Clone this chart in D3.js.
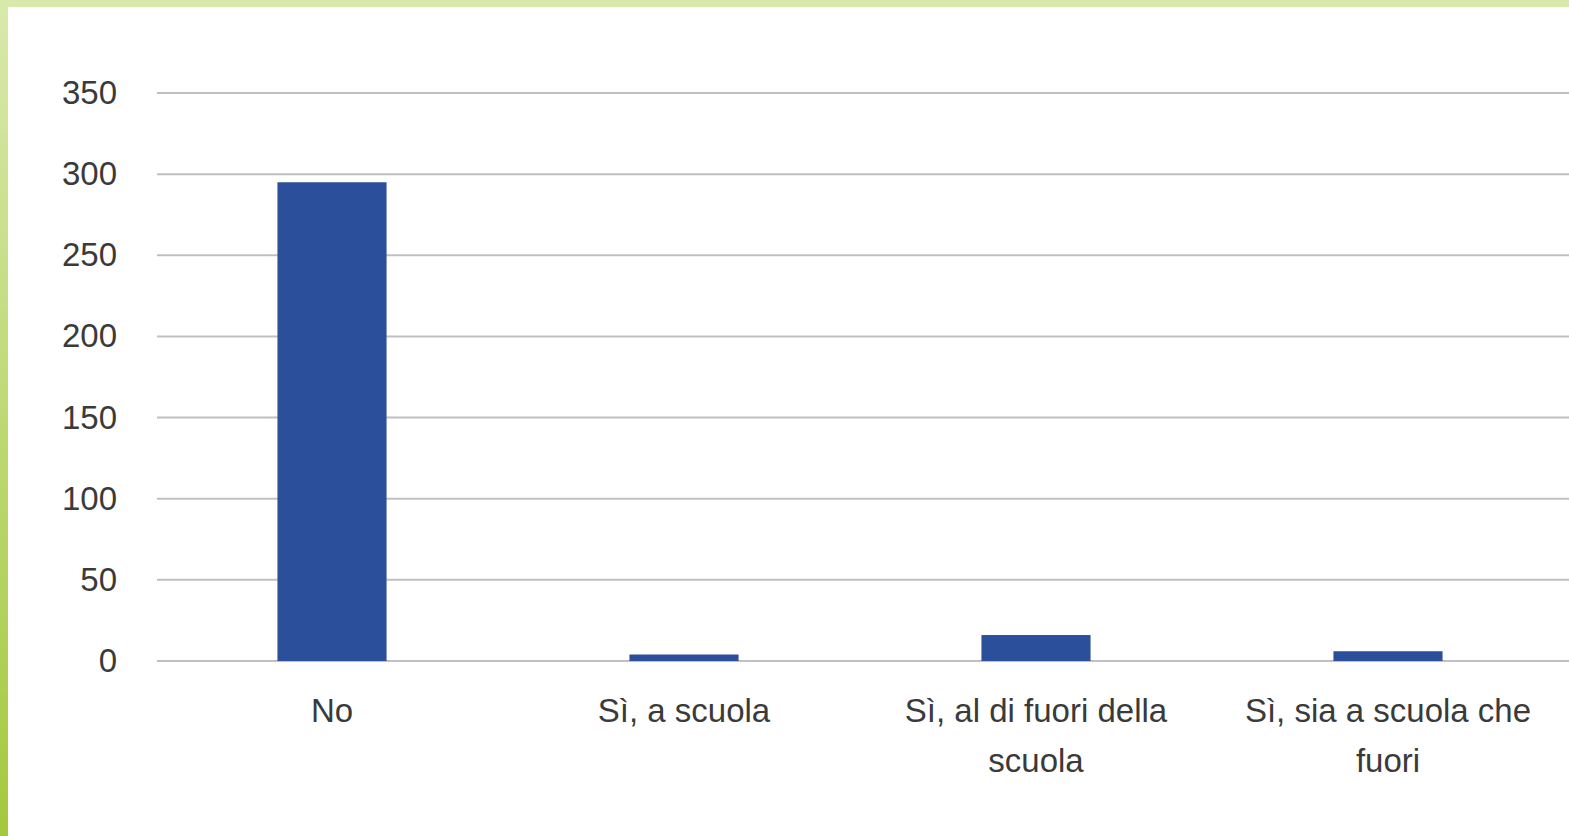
<!DOCTYPE html>
<html><head><meta charset="utf-8">
<script src="https://cdn.jsdelivr.net/npm/d3@7"></script>
<style>html,body{margin:0;padding:0;background:#fff;overflow:hidden}</style>
</head><body>
<svg id="c" width="1569" height="836"></svg>
<script>
const categories = ["No", "Sì, a scuola", "Sì, al di fuori della scuola", "Sì, sia a scuola che fuori"];
const labelLines = [["No"], ["Sì, a scuola"], ["Sì, al di fuori della", "scuola"], ["Sì, sia a scuola che", "fuori"]];
const values = [295, 4, 16, 6];
const yTicks = [0, 50, 100, 150, 200, 250, 300, 350];

const svg = d3.select("#c");
const W = 1569, H = 836;

// frame background
const defs = svg.append("defs");
const lg = defs.append("linearGradient").attr("id", "lb").attr("x1", 0).attr("y1", 0).attr("x2", 0).attr("y2", 1);
lg.append("stop").attr("offset", "0%").attr("stop-color", "#d9e9ab");
lg.append("stop").attr("offset", "100%").attr("stop-color", "#a3c93e");
svg.append("rect").attr("x", 0).attr("y", 0).attr("width", W).attr("height", 7).attr("fill", "#d9e9ab");
svg.append("rect").attr("x", 0).attr("y", 0).attr("width", 8).attr("height", H).attr("fill", "url(#lb)");

const x = d3.scaleBand().domain(categories).range([156, 1564]).paddingInner(0.69).paddingOuter(0.345);
const y = d3.scaleLinear().domain([0, 350]).range([661, 93]);

const font = "'Liberation Sans', Arial, sans-serif";

// gridlines
svg.append("g").selectAll("line").data(yTicks).join("line")
  .attr("x1", 157).attr("x2", W).attr("y1", d => y(d)).attr("y2", d => y(d))
  .attr("stroke", "#c0c0c0").attr("stroke-width", 2);

// y axis labels
const ya = svg.append("g").attr("transform", "translate(157,0)")
  .call(d3.axisLeft(y).tickValues(yTicks).tickSize(0).tickPadding(40));
ya.select(".domain").remove();
ya.selectAll("text").attr("font-family", font).attr("font-size", 33).attr("fill", "#3a3a3a");

// bars
svg.append("g").selectAll("rect").data(values).join("rect")
  .attr("x", (d, i) => x(categories[i]))
  .attr("width", x.bandwidth())
  .attr("y", d => y(d))
  .attr("height", d => y(0) - y(d))
  .attr("fill", "#2b4f9b");

// x labels
const xl = svg.append("g");
categories.forEach((c, i) => {
  const t = xl.append("text").attr("x", x(c) + x.bandwidth() / 2).attr("y", 722)
    .attr("text-anchor", "middle").attr("font-family", font).attr("font-size", 33).attr("fill", "#3a3a3a");
  labelLines[i].forEach((ln, j) => {
    t.append("tspan").attr("x", x(c) + x.bandwidth() / 2).attr("dy", j === 0 ? 0 : 50).text(ln);
  });
});
</script>
</body></html>
